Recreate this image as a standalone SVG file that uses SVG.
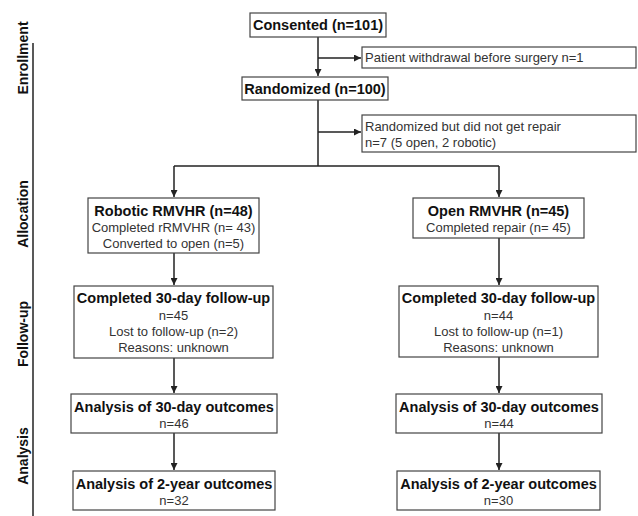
<svg xmlns="http://www.w3.org/2000/svg" width="638" height="516" viewBox="0 0 638 516">
<defs>
<style>
.box{fill:#fff;stroke:#444;stroke-width:1.2}
.t{font-family:"Liberation Sans",Arial,sans-serif;font-size:14.5px;font-weight:bold;fill:#111;text-anchor:middle}
.r{font-family:"Liberation Sans",Arial,sans-serif;font-size:13px;fill:#333;text-anchor:middle}
.l{font-family:"Liberation Sans",Arial,sans-serif;font-size:13px;fill:#333}
.s{font-family:"Liberation Sans",Arial,sans-serif;font-size:14px;font-weight:bold;fill:#111;text-anchor:middle}
.c{fill:none;stroke:#222;stroke-width:1.5}
</style>
<marker id="ah" viewBox="0 0 10 10" refX="10" refY="5" markerWidth="7" markerHeight="7" markerUnits="userSpaceOnUse" orient="auto">
<path d="M0,0 L10,5 L0,10 z" fill="#222"/>
</marker>
</defs>
<rect width="638" height="516" fill="#fff"/>

<g id="sections">
<line x1="33" y1="43" x2="33" y2="516" stroke="#222" stroke-width="1.5"/>
<text class="s" transform="translate(27.5,58) rotate(-90)">Enrollment</text>
<text class="s" transform="translate(27.5,214) rotate(-90)">Allocation</text>
<text class="s" transform="translate(27.5,334) rotate(-90)">Follow-up</text>
<text class="s" transform="translate(27.5,456) rotate(-90)">Analysis</text>
</g>

<g id="connectors">
<path class="c" d="M318,37 V76" marker-end="url(#ah)"/>
<path class="c" d="M318,58 H361" marker-end="url(#ah)"/>
<path class="c" d="M318,100 V166"/>
<path class="c" d="M318,132 H361" marker-end="url(#ah)"/>
<path class="c" d="M174,166 H499"/>
<path class="c" d="M174,166 V197" marker-end="url(#ah)"/>
<path class="c" d="M499,166 V197" marker-end="url(#ah)"/>
<path class="c" d="M174,253 V285" marker-end="url(#ah)"/>
<path class="c" d="M499,238 V285" marker-end="url(#ah)"/>
<path class="c" d="M174,358 V393" marker-end="url(#ah)"/>
<path class="c" d="M499,357 V393" marker-end="url(#ah)"/>
<path class="c" d="M174,433 V470" marker-end="url(#ah)"/>
<path class="c" d="M499,433 V470" marker-end="url(#ah)"/>
</g>

<g id="consented">
<rect class="box" x="250" y="13" width="136" height="24"/>
<text class="t" x="318" y="30">Consented (n=101)</text>
</g>

<g id="withdrawal">
<rect class="box" x="362" y="47" width="274" height="21"/>
<text class="l" x="365" y="62">Patient withdrawal before surgery n=1</text>
</g>

<g id="randomized">
<rect class="box" x="242" y="77" width="146" height="23"/>
<text class="t" x="315" y="94">Randomized (n=100)</text>
</g>

<g id="norepair">
<rect class="box" x="362" y="115" width="274" height="37"/>
<text class="l" x="365" y="131">Randomized but did not get repair</text>
<text class="l" x="365" y="147">n=7 (5 open, 2 robotic)</text>
</g>

<g id="robotic">
<rect class="box" x="88" y="198" width="171" height="55"/>
<text class="t" x="173.5" y="216">Robotic RMVHR (n=48)</text>
<text class="r" x="173.5" y="232">Completed rRMVHR (n= 43)</text>
<text class="r" x="173.5" y="248">Converted to open (n=5)</text>
</g>

<g id="open">
<rect class="box" x="413" y="198" width="171" height="40"/>
<text class="t" x="498.5" y="216">Open RMVHR (n=45)</text>
<text class="r" x="498.5" y="232">Completed repair (n= 45)</text>
</g>

<g id="fu-left">
<rect class="box" x="74" y="286" width="199" height="72"/>
<text class="t" x="173.5" y="303">Completed 30-day follow-up</text>
<text class="r" x="173.5" y="320">n=45</text>
<text class="r" x="173.5" y="336">Lost to follow-up (n=2)</text>
<text class="r" x="173.5" y="352">Reasons: unknown</text>
</g>

<g id="fu-right">
<rect class="box" x="399" y="286" width="199" height="71"/>
<text class="t" x="498.5" y="303">Completed 30-day follow-up</text>
<text class="r" x="498.5" y="320">n=44</text>
<text class="r" x="498.5" y="336">Lost to follow-up (n=1)</text>
<text class="r" x="498.5" y="352">Reasons: unknown</text>
</g>

<g id="a30-left">
<rect class="box" x="71" y="394" width="206" height="39"/>
<text class="t" x="174" y="412">Analysis of 30-day outcomes</text>
<text class="r" x="174" y="428">n=46</text>
</g>

<g id="a30-right">
<rect class="box" x="396" y="394" width="206" height="39"/>
<text class="t" x="499" y="412">Analysis of 30-day outcomes</text>
<text class="r" x="499" y="428">n=44</text>
</g>

<g id="a2-left">
<rect class="box" x="73" y="471" width="202" height="39"/>
<text class="t" x="174" y="489">Analysis of 2-year outcomes</text>
<text class="r" x="174" y="505">n=32</text>
</g>

<g id="a2-right">
<rect class="box" x="397" y="471" width="203" height="39"/>
<text class="t" x="498.5" y="489">Analysis of 2-year outcomes</text>
<text class="r" x="498.5" y="505">n=30</text>
</g>
</svg>
